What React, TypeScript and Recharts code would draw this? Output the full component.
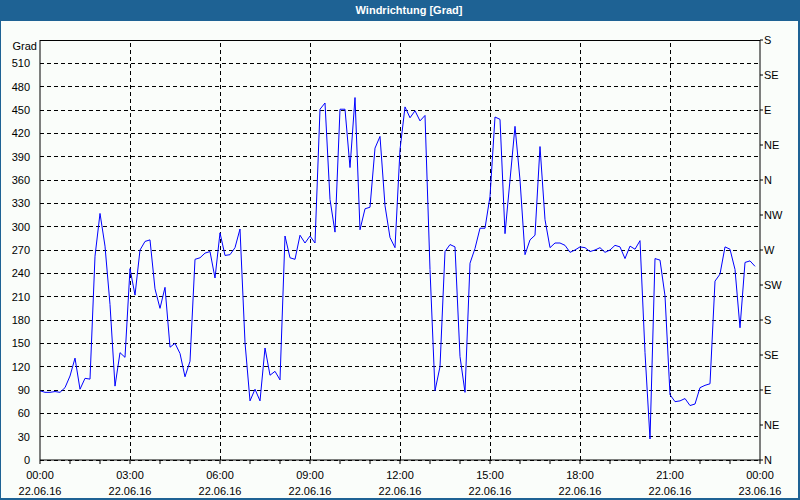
import React from 'react';
import { LineChart, Line, XAxis, YAxis, CartesianGrid, ReferenceLine } from 'recharts';

// wind direction samples, one every 10 minutes from 00:00 (22.06.16)
const SAMPLE_MINUTES = 10;
const DIRECTION = [
    89, 87, 87, 88, 87, 93, 108, 131, 91, 105,
    104, 262, 317, 275, 200, 95, 138, 132, 246, 212,
    270, 281, 283, 220, 195, 222, 145, 150, 137, 107,
    127, 258, 260, 266, 268, 234, 292, 263, 264, 273,
    297, 151, 76, 91, 76, 144, 109, 114, 103, 288,
    260, 258, 289, 279, 288, 279, 451, 459, 335, 293,
    451, 451, 376, 466, 296, 323, 325, 401, 416, 327,
    286, 273, 399, 454, 440, 449, 436, 443, 245, 89,
    120, 268, 277, 274, 133, 87, 253, 272, 298, 298,
    339, 441, 438, 291, 360, 429, 360, 264, 283, 289,
    403, 309, 273, 279, 279, 276, 267, 270, 274, 273,
    268, 270, 273, 267, 270, 276, 274, 259, 275, 271,
    282, 138, 27, 259, 257, 211, 84, 75, 76, 79,
    70, 72, 93, 96, 98, 230, 239, 274, 271, 245,
    170, 254, 256, 249,
];

const DEGREE_TICKS = [0, 30, 60, 90, 120, 150, 180, 210, 240, 270, 300, 330, 360, 390, 420, 450, 480, 510];
const COMPASS_TICKS = [0, 45, 90, 135, 180, 225, 270, 315, 360, 405, 450, 495, 540];
const COMPASS_LABELS = ['N', 'NE', 'E', 'SE', 'S', 'SW', 'W', 'NW', 'N', 'NE', 'E', 'SE', 'S'];
const HOUR_TICKS = [0, 60, 120, 180, 240, 300, 360, 420, 480, 540, 600, 660, 720, 780, 840, 900, 960, 1020, 1080, 1140, 1200, 1260, 1320, 1380, 1440];
const GRID_MINUTES = [180, 360, 540, 720, 900, 1080, 1260];
const TIME_LABELS = ['00:00', '03:00', '06:00', '09:00', '12:00', '15:00', '18:00', '21:00', '00:00'];
const DATE_LABELS = ['22.06.16', '22.06.16', '22.06.16', '22.06.16', '22.06.16', '22.06.16', '22.06.16', '22.06.16', '23.06.16'];

const FONT = '"Liberation Sans", Arial, sans-serif';

const data = DIRECTION.map((deg, i) => ({ minute: i * SAMPLE_MINUTES, deg }));

const renderTimeTick = ({ x, y, payload }: any) => {
    if (payload.value % 180 !== 0) return <g />;
    const idx = payload.value / 180;
    return (
        <text x={x} y={y} textAnchor="middle" fill="#000" fontSize={11} fontFamily={FONT}>
            <tspan x={x} dy={13}>{TIME_LABELS[idx]}</tspan>
            <tspan x={x} dy={16}>{DATE_LABELS[idx]}</tspan>
        </text>
    );
};

const GradLabel = ({ viewBox }: any) => (
    <text x={viewBox.x + viewBox.width - 3} y={viewBox.y + 10} textAnchor="end" fill="#000" fontSize={11} fontFamily={FONT}>
        Grad
    </text>
);

export default function App() {
    return (
        <div style={{ position: 'absolute', left: 0, top: 0, width: 800, height: 500, background: '#1E6294', overflow: 'hidden' }}>
            <div style={{
                position: 'absolute', left: 0, top: 0, width: 800, height: 20, lineHeight: '20px',
                textAlign: 'center', paddingLeft: 18, boxSizing: 'border-box',
                color: '#fff', fontFamily: FONT, fontSize: 11, fontWeight: 700,
            }}>
                Windrichtung [Grad]
            </div>
            <div style={{ position: 'absolute', left: 1, top: 21, width: 797, height: 477, background: '#FAFDFA' }} />
            <div style={{ position: 'absolute', left: 0, top: 0 }}>
                <LineChart width={800} height={500} data={data} margin={{ top: 40, right: 0, bottom: 0, left: 0 }}>
                    <CartesianGrid vertical={false} stroke="#000" strokeDasharray="4 3" shapeRendering="crispEdges" />
                    {GRID_MINUTES.map(m => (
                        <ReferenceLine key={m} x={m} stroke="#000" strokeDasharray="4 3" shapeRendering="crispEdges" />
                    ))}
                    <ReferenceLine y={540} stroke="#000" shapeRendering="crispEdges" />
                    <XAxis
                        dataKey="minute"
                        type="number"
                        domain={[0, 1440]}
                        ticks={HOUR_TICKS}
                        interval={0}
                        height={40}
                        stroke="#000"
                        tickSize={4}
                        tickMargin={2}
                        tick={renderTimeTick}
                        allowDataOverflow
                    />
                    <YAxis
                        domain={[0, 540]}
                        ticks={DEGREE_TICKS}
                        interval={0}
                        width={40}
                        stroke="#000"
                        tickLine={false}
                        tickMargin={4}
                        tick={{ fill: '#000', fontSize: 11, fontFamily: FONT }}
                        label={<GradLabel />}
                        allowDataOverflow
                    />
                    <YAxis
                        yAxisId="right"
                        orientation="right"
                        domain={[0, 540]}
                        ticks={COMPASS_TICKS}
                        interval={0}
                        width={40}
                        stroke="#000"
                        tickSize={3}
                        tickMargin={1}
                        tickFormatter={(v: number) => COMPASS_LABELS[COMPASS_TICKS.indexOf(v)]}
                        tick={{ fill: '#000', fontSize: 11, fontFamily: FONT, textAnchor: 'start' }}
                        allowDataOverflow
                    />
                    <Line
                        dataKey="deg"
                        type="linear"
                        stroke="#0000FF"
                        strokeWidth={1}
                        dot={false}
                        isAnimationActive={false}
                    />
                </LineChart>
            </div>
        </div>
    );
}
